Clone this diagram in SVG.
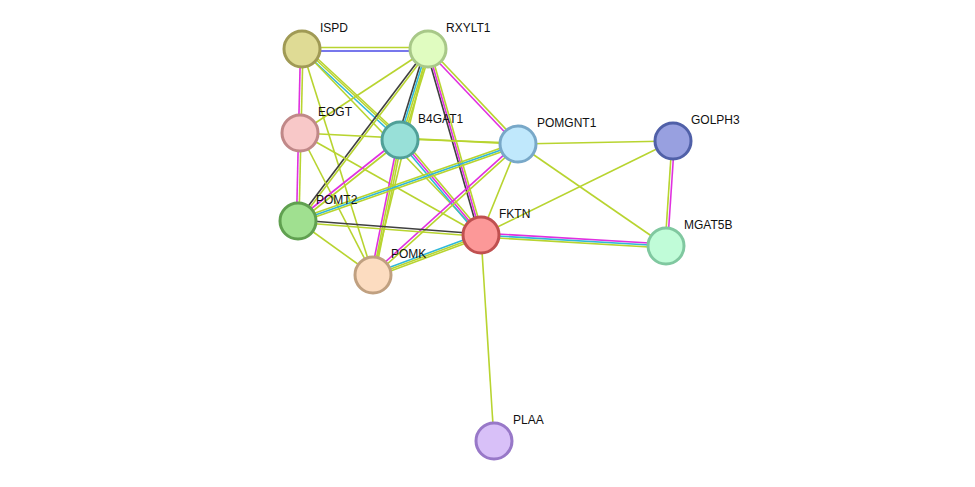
<svg xmlns="http://www.w3.org/2000/svg" width="975" height="487" viewBox="0 0 975 487">
<style>
line{stroke-width:1.6;fill:none}
.y{stroke:#b8d430}.m{stroke:#e030e0}.c{stroke:#30b8d8}.k{stroke:#404040}.b{stroke:#4a4ae6}
circle{stroke-width:3}
text{font-family:"Liberation Sans",Arial,sans-serif;font-size:12px;fill:#111}
</style>
<rect width="975" height="487" fill="#fff"/>
<g id="edges">
<line class="y" x1="302" y1="47.5" x2="428" y2="47.5"/><line class="b" x1="302" y1="51" x2="428" y2="51"/>
<line class="m" x1="300.5" y1="49" x2="298.5" y2="133"/><line class="y" x1="303" y1="49" x2="301" y2="133"/>
<line class="c" x1="301" y1="49" x2="399" y2="140"/><line class="y" x1="303.5" y1="48" x2="401.5" y2="139"/><line class="y" x1="305" y1="47" x2="403" y2="138"/>
<line class="y" x1="302" y1="49" x2="481" y2="235"/>
<line class="y" x1="302" y1="49" x2="373" y2="275"/>
<line class="y" x1="428" y1="49" x2="300" y2="133"/>
<line class="k" x1="427" y1="49" x2="297" y2="221"/><line class="y" x1="429" y1="50" x2="299" y2="222"/>
<line class="k" x1="425" y1="49" x2="397" y2="140"/><line class="c" x1="427" y1="49" x2="399" y2="140"/><line class="y" x1="429" y1="49" x2="401" y2="140"/><line class="y" x1="431" y1="49" x2="403" y2="140"/>
<line class="k" x1="426" y1="49" x2="479" y2="235"/><line class="m" x1="428" y1="49" x2="481" y2="235"/><line class="y" x1="430" y1="49" x2="483" y2="235"/>
<line class="m" x1="427" y1="50" x2="517" y2="145"/><line class="y" x1="429" y1="48" x2="519" y2="143"/>
<line class="y" x1="428" y1="49" x2="373" y2="275"/>
<line class="y" x1="300" y1="133" x2="518" y2="144"/>
<line class="y" x1="400" y1="139" x2="518" y2="143"/>
<line class="m" x1="298.5" y1="133" x2="296.5" y2="221"/><line class="y" x1="301" y1="133" x2="299" y2="221"/>
<line class="y" x1="300" y1="133" x2="481" y2="235"/>
<line class="y" x1="300" y1="133" x2="373" y2="275"/>
<line class="m" x1="399" y1="139" x2="297" y2="220"/><line class="y" x1="401" y1="141" x2="299" y2="222"/>
<line class="c" x1="399" y1="141" x2="479" y2="236"/><line class="m" x1="401" y1="140" x2="481" y2="235"/><line class="y" x1="403" y1="139" x2="483" y2="234"/>
<line class="m" x1="398" y1="140" x2="371" y2="275"/><line class="y" x1="400" y1="140" x2="373" y2="275"/><line class="y" x1="402" y1="140" x2="375" y2="275"/>
<line class="y" x1="518" y1="142" x2="298" y2="219"/><line class="c" x1="518" y1="144" x2="298" y2="221"/><line class="y" x1="518" y1="146" x2="298" y2="223"/>
<line class="y" x1="518" y1="144" x2="481" y2="235"/>
<line class="m" x1="517" y1="143" x2="372" y2="274"/><line class="y" x1="519" y1="145" x2="374" y2="276"/>
<line class="y" x1="518" y1="144" x2="673" y2="141"/>
<line class="y" x1="518" y1="144" x2="666" y2="246"/>
<line class="k" x1="298" y1="220" x2="481" y2="234"/><line class="y" x1="298" y1="222.5" x2="481" y2="236.5"/>
<line class="y" x1="298" y1="221" x2="373" y2="275"/>
<line class="c" x1="481" y1="233.5" x2="373" y2="273.5"/><line class="y" x1="481" y1="235.5" x2="373" y2="275.5"/><line class="y" x1="481" y1="237.5" x2="373" y2="277.5"/>
<line class="m" x1="481" y1="233" x2="666" y2="244"/><line class="c" x1="481" y1="235" x2="666" y2="246"/><line class="y" x1="481" y1="237" x2="666" y2="248"/>
<line class="y" x1="481" y1="235" x2="673" y2="141"/>
<line class="y" x1="481" y1="235" x2="494" y2="441"/>
<line class="m" x1="674.5" y1="141" x2="667.5" y2="246"/><line class="y" x1="672" y1="141" x2="665" y2="246"/>
</g>
<g id="ISPD"><circle cx="302" cy="49" r="18" fill="#dfdb95" stroke="#a09a55"/><text x="320" y="32">ISPD</text></g>
<g id="RXYLT1"><circle cx="428" cy="49" r="18" fill="#e0fcc0" stroke="#a8c888"/><text x="446" y="32">RXYLT1</text></g>
<g id="EOGT"><circle cx="300" cy="133" r="18" fill="#f8c8c8" stroke="#c08888"/><text x="318" y="116">EOGT</text></g>
<g id="B4GAT1"><circle cx="400" cy="140" r="18" fill="#98e0d8" stroke="#50a098"/><text x="418" y="123">B4GAT1</text></g>
<g id="POMGNT1"><circle cx="518" cy="144" r="18" fill="#c0e8fc" stroke="#78a8c8"/><text x="537" y="127">POMGNT1</text></g>
<g id="GOLPH3"><circle cx="673" cy="141" r="18" fill="#98a0e0" stroke="#5060a8"/><text x="691" y="124">GOLPH3</text></g>
<g id="POMT2"><circle cx="298" cy="221" r="18" fill="#a0e090" stroke="#60a050"/><text x="316" y="204">POMT2</text></g>
<g id="FKTN"><circle cx="481" cy="235" r="18" fill="#fc9898" stroke="#c05050"/><text x="499" y="218">FKTN</text></g>
<g id="MGAT5B"><circle cx="666" cy="246" r="18" fill="#c0fcd8" stroke="#80c8a0"/><text x="684" y="229">MGAT5B</text></g>
<g id="POMK"><circle cx="373" cy="275" r="18" fill="#fcdcc0" stroke="#c0a080"/><text x="391" y="258">POMK</text></g>
<g id="PLAA"><circle cx="494" cy="441" r="18" fill="#d8c0f8" stroke="#9878c8"/><text x="513" y="424">PLAA</text></g>
</svg>
